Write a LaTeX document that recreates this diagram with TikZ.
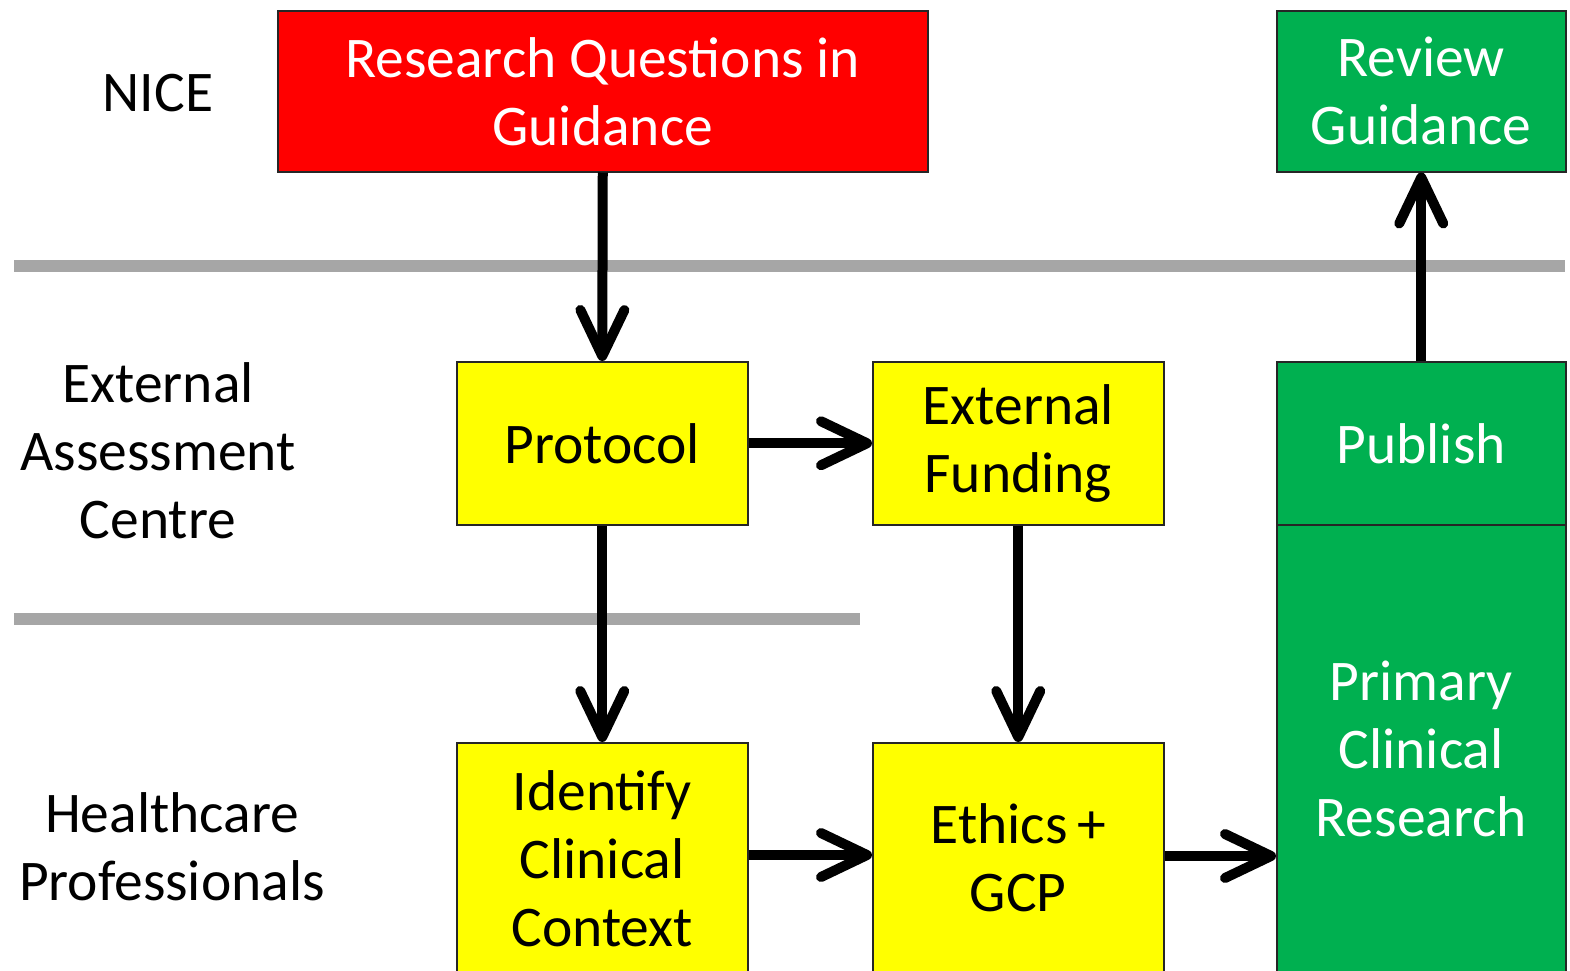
\documentclass[tikz,border=0pt]{standalone}
\usepackage{fontspec}
\setmainfont{Carlito}
\usetikzlibrary{arrows.meta}
\definecolor{cred}{HTML}{FF0000}
\definecolor{cgreen}{HTML}{00B050}
\definecolor{cyellow}{HTML}{FFFF00}
\definecolor{cgray}{HTML}{A6A6A6}
\tikzset{
  box/.style={draw=black!85, line width=1.5pt, anchor=north west, inner sep=0pt,
    align=center, font=\fontsize{57.5}{68}\selectfont},
  redbox/.style={box, fill=cred, text=white},
  greenbox/.style={box, fill=cgreen, text=white},
  yellowbox/.style={box, fill=cyellow, text=black},
  lane/.style={align=center, font=\fontsize{57.5}{68}\selectfont, inner sep=0pt},
  sep/.style={cgray, line width=12pt},
  flow/.style={line width=10pt, -{Straight Barb[length=46pt, width=44pt, round]}},
}
\begin{document}
\begin{tikzpicture}[x=1pt, y=-1pt]
\useasboundingbox (0,0) rectangle (1570,970);
\clip (0,0) rectangle (1570,970);
\fill[white] (0,0) rectangle (1570,970);
% separators
\coordinate (s1a) at (14,266); \coordinate (s1b) at (1565,266);
\coordinate (s2a) at (14,619); \coordinate (s2b) at (860,619);
\draw[sep] (s1a) -- (s1b);
\draw[sep] (s2a) -- (s2b);
% lane labels
\node[lane] (nice) at (158,93) {NICE};
\node[lane] (eac) at (158,451) {External\\Assessment\\Centre};
\node[lane] (hcp) at (172,847) {Healthcare\\Professionals};
% boxes
\node[redbox, minimum width=650pt, minimum height=161pt] (rq) at (277,10) {Research Questions in\\Guidance};
\node[greenbox, minimum width=289pt, minimum height=161pt] (rg) at (1276,10) {Review\\Guidance};
\node[yellowbox, minimum width=291pt, minimum height=163pt] (prot) at (456,361) {Protocol};
\node[yellowbox, minimum width=291pt, minimum height=163pt] (ef) at (872,361) {External\\Funding};
\node[greenbox, minimum width=289pt, minimum height=163pt] (pub) at (1276,361) {Publish};
\node[greenbox, minimum width=289pt, minimum height=448pt] (pcr) at (1276,524) {Primary\\Clinical\\Research};
\node[yellowbox, minimum width=291pt, minimum height=232pt] (icc) at (456,742) {Identify\\Clinical\\Context};
\node[yellowbox, minimum width=291pt, minimum height=230pt] (eth) at (872,742) {Ethics\,+\\GCP};
% connectors
\draw[flow] (rq.south) -- (prot.north);
\draw[flow] (prot.east) -- (ef.west);
\draw[flow] (prot.south) -- (icc.north);
\draw[flow] (ef.south) -- (eth.north);
\draw[flow] (icc.east |- 0,855) -- (eth.west |- 0,855);
\draw[flow] (eth.east |- 0,856) -- (pcr.west |- 0,856);
\draw[flow] (pub.north) -- (rg.south);
\end{tikzpicture}
\end{document}
